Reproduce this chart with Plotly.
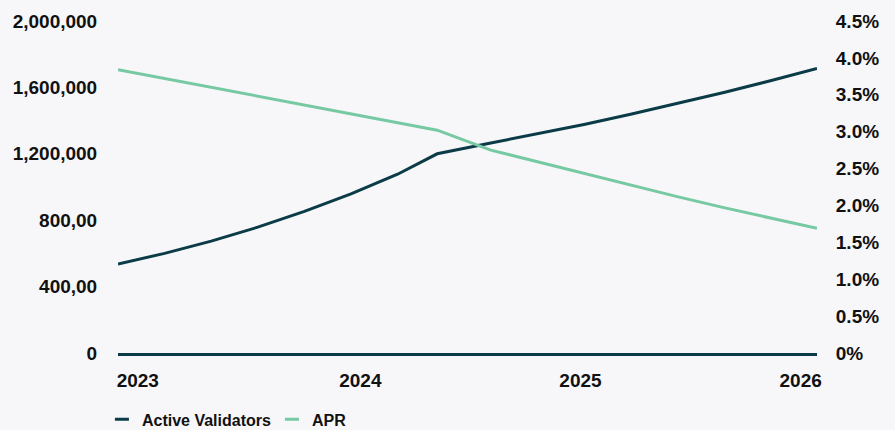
import plotly.graph_objects as go

# ---- data ----
years = [2023.0, 2023.2, 2023.4, 2023.6, 2023.8, 2024.0, 2024.2, 2024.37,
         2024.6, 2024.8, 2025.0, 2025.2, 2025.4, 2025.6, 2025.8, 2026.0]
active_validators = [536000, 600000, 674000, 758000, 853000, 959000, 1077000, 1200000,
                     1265000, 1319000, 1377000, 1438000, 1502000, 1569000, 1640000, 1714000]
apr_pct = [3.84, 3.72, 3.60, 3.48, 3.36, 3.24, 3.12, 3.02,
           2.75, 2.59, 2.43, 2.27, 2.12, 1.97, 1.83, 1.69]

x_tick_labels = ["2023", "2024", "2025", "2026"]
left_tick_vals = [0, 400000, 800000, 1200000, 1600000, 2000000]
left_tick_text = ["0", "400,00", "800,00", "1,200,000", "1,600,000", "2,000,000"]
right_tick_vals = [0, 0.5, 1.0, 1.5, 2.0, 2.5, 3.0, 3.5, 4.0, 4.5]
right_tick_text = ["0%", "0.5%", "1.0%", "1.5%", "2.0%", "2.5%", "3.0%", "3.5%", "4.0%", "4.5%"]

DARK = "#0a3b47"
MINT = "#76c9a2"
BG = "#f7f7f9"
TXT = "#111111"
FONT = "Liberation Sans, Arial, sans-serif"

fig = go.Figure()
fig.add_trace(go.Scatter(x=years, y=active_validators, mode="lines",
                         line=dict(color=DARK, width=3), name="Active Validators",
                         yaxis="y", showlegend=False))
fig.add_trace(go.Scatter(x=years, y=apr_pct, mode="lines",
                         line=dict(color=MINT, width=3), name="APR",
                         yaxis="y2", showlegend=False))
# legend entries with short dash symbols
fig.add_trace(go.Scatter(x=[None], y=[None], mode="markers", name="Active Validators",
                         marker=dict(symbol="line-ew", size=10, line=dict(color=DARK, width=3))))
fig.add_trace(go.Scatter(x=[None], y=[None], mode="markers", name="APR",
                         marker=dict(symbol="line-ew", size=10, line=dict(color=MINT, width=3))))

tick_pos = [2023.085, 2024.04, 2024.985, 2025.93]

fig.update_layout(
    width=895, height=430,
    margin=dict(l=118, r=78, t=21, b=77, autoexpand=False),
    paper_bgcolor=BG, plot_bgcolor=BG,
    font=dict(family=FONT, size=19, color=TXT, weight="bold"),
    xaxis=dict(range=[2023, 2026], tickvals=tick_pos, ticktext=x_tick_labels,
               showgrid=False, zeroline=False, showline=True, linecolor=DARK, linewidth=3,
               ticks="outside", ticklen=8, tickcolor="rgba(0,0,0,0)",
               tickfont=dict(family=FONT, size=19, color=TXT, weight="bold")),
    yaxis=dict(range=[0, 2000000], tickvals=left_tick_vals, ticktext=left_tick_text,
               showgrid=False, zeroline=False, showline=False,
               ticks="outside", ticklen=16, tickcolor="rgba(0,0,0,0)",
               tickfont=dict(family=FONT, size=19, color=TXT, weight="bold")),
    yaxis2=dict(range=[0, 4.5], tickvals=right_tick_vals, ticktext=right_tick_text,
                overlaying="y", side="right",
                showgrid=False, zeroline=False, showline=False,
                ticks="outside", ticklen=14, tickcolor="rgba(0,0,0,0)",
                tickfont=dict(family=FONT, size=19, color=TXT, weight="bold")),
    legend=dict(orientation="h", x=-0.023, xanchor="left", y=-0.2, yanchor="middle",
                font=dict(family=FONT, size=16, color=TXT, weight="bold"),
                bgcolor="rgba(0,0,0,0)", itemwidth=30, entrywidth=125),
)

fig.write_html("out.html")
